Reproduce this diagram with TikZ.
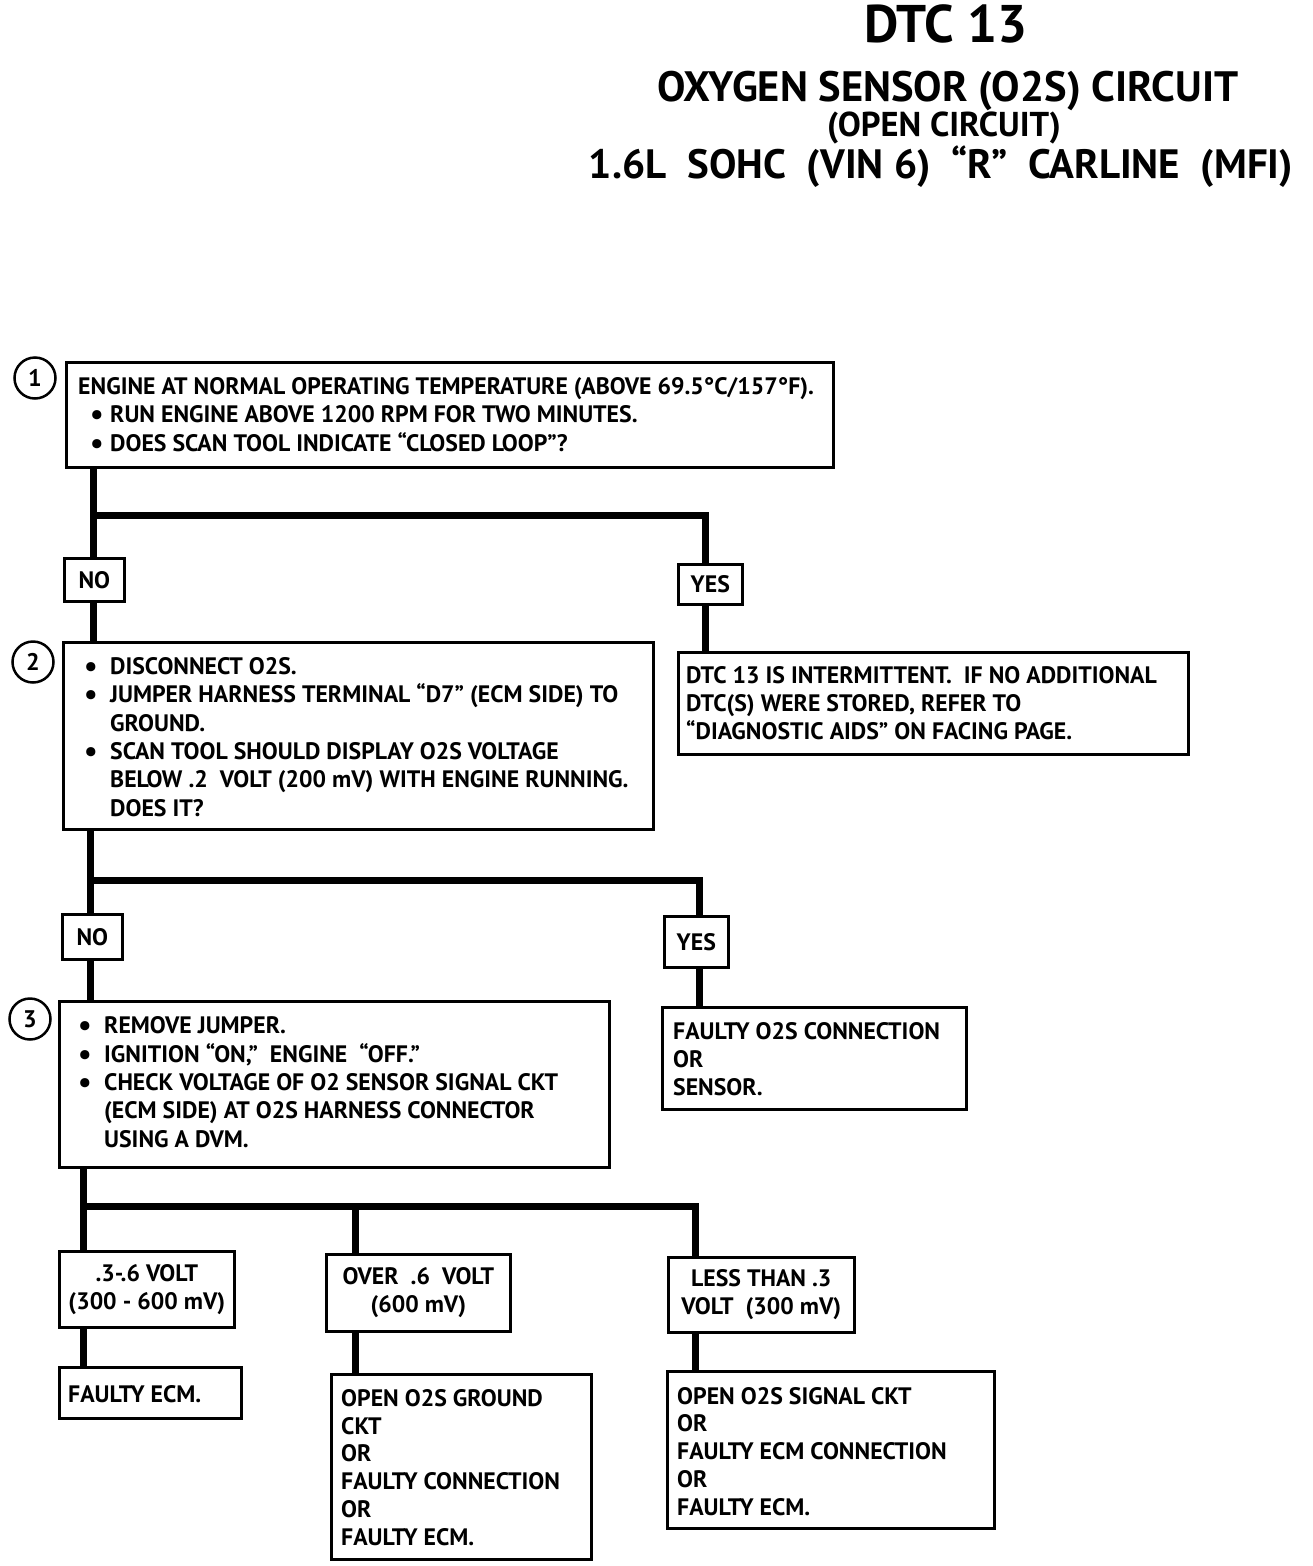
\documentclass[tikz,border=0pt]{standalone}
\usepackage{fontspec}
\setmainfont{PT Sans}
\newcommand\bdot{\raisebox{-2pt}{\fontsize{30}{30}\selectfont•}}
\newcommand\bu{\makebox[26pt][l]{\bdot}}
\newcommand\bub{\makebox[20pt][l]{\bdot}}
\newcommand\tf{\fontsize{23.8}{28.3}\selectfont\bfseries}
\begin{document}
\begin{tikzpicture}[x=1pt,y=-1pt,
  bx/.style={draw, line width=2.6pt, rectangle, inner sep=0pt, anchor=north west, font=\tf, align=center},
  txt/.style={inner sep=0pt, anchor=base west, align=left, font=\tf},
  txs/.style={txt, font=\fontsize{23.8}{27.7}\selectfont\bfseries},
  conn/.style={line width=7pt},
  num/.style={circle, draw, line width=2.5pt, minimum size=41pt, inner sep=0pt, font=\fontsize{24}{24}\selectfont\bfseries},
  ttl/.style={inner sep=0pt, anchor=base, font=\bfseries}]
\useasboundingbox[fill=white] (0,0) rectangle (1312,1566);
% titles (anchor base = baseline)
\node[ttl, font=\fontsize{53}{53}\selectfont\bfseries] (t1) at (946,42) {DTC 13};
\node[ttl, font=\fontsize{42.5}{42.5}\selectfont\bfseries] (t2) at (948,101) {OXYGEN SENSOR (O2S) CIRCUIT};
\node[ttl, font=\fontsize{34.5}{34.5}\selectfont\bfseries] (t3) at (944,136) {(OPEN CIRCUIT)};
\node[ttl, font=\fontsize{41}{41}\selectfont\bfseries] (t4) at (941,178) {1.6L\ \ SOHC\ \ (VIN 6)\ \ “R”\ \ CARLINE\ \ (MFI)};
% step 1
\node[num] (n1) at (35,378) {1};
\node[bx, minimum width=767pt, minimum height=105pt] (b1) at (65,361) {};
\node[txt] (b1t) at (78,451) {ENGINE AT NORMAL OPERATING TEMPERATURE (ABOVE 69.5°C/157°F).\\
\hspace*{12pt}\bub RUN ENGINE ABOVE 1200 RPM FOR TWO MINUTES.\\
\hspace*{12pt}\bub DOES SCAN TOOL INDICATE “CLOSED LOOP”?};
\node[bx, minimum width=60pt, minimum height=43pt] (no1) at (63,557) {NO};
\node[bx, minimum width=64pt, minimum height=40pt] (yes1) at (677,563) {YES};
% step 2
\node[num] (n2) at (33,662) {2};
\node[bx, minimum width=590pt, minimum height=187pt] (b2) at (62,641) {};
\node[txt] (b2t) at (84,816) {\bu DISCONNECT O2S.\\
\bu JUMPER HARNESS TERMINAL “D7” (ECM SIDE) TO\\
\hspace*{26pt}GROUND.\\
\bu SCAN TOOL SHOULD DISPLAY O2S VOLTAGE\\
\hspace*{26pt}BELOW .2\ \ VOLT (200 mV) WITH ENGINE RUNNING.\\
\hspace*{26pt}DOES IT?};
\node[bx, minimum width=510pt, minimum height=102pt] (d1) at (677,651) {};
\node[txs] (d1t) at (686,739) {DTC 13 IS INTERMITTENT.\ \ IF NO ADDITIONAL\\
DTC(S) WERE STORED, REFER TO\\
“DIAGNOSTIC AIDS” ON FACING PAGE.};
\node[bx, minimum width=60pt, minimum height=45pt] (no2) at (61,913) {NO};
\node[bx, minimum width=64pt, minimum height=51pt] (yes2) at (663,915) {YES};
% step 3
\node[num] (n3) at (30,1019) {3};
\node[bx, minimum width=550pt, minimum height=166pt] (b3) at (58,1000) {};
\node[txt] (b3t) at (78,1147) {\bu REMOVE JUMPER.\\
\bu IGNITION “ON,”\ \ ENGINE\ \ “OFF.”\\
\bu CHECK VOLTAGE OF O2 SENSOR SIGNAL CKT\\
\hspace*{26pt}(ECM SIDE) AT O2S HARNESS CONNECTOR\\
\hspace*{26pt}USING A DVM.};
\node[bx, minimum width=304pt, minimum height=102pt] (f1) at (661,1006) {};
\node[txs] (f1t) at (673,1095) {FAULTY O2S CONNECTION\\ OR\\ SENSOR.};
% results
\node[bx, minimum width=175pt, minimum height=76pt] (r1) at (58,1250) {.3-.6 VOLT\\(300 - 600 mV)};
\node[bx, minimum width=184pt, minimum height=77pt] (r2) at (325,1253) {OVER\ \ .6\ \ VOLT\\(600 mV)};
\node[bx, minimum width=186pt, minimum height=75pt] (r3) at (667,1256) {LESS THAN .3\\VOLT\ \ (300 mV)};
\node[bx, minimum width=182pt, minimum height=51pt] (e1) at (58,1366) {};
\node[txt] (e1t) at (68,1402) {FAULTY ECM.};
\node[bx, minimum width=260pt, minimum height=185pt] (e2) at (330,1373) {};
\node[txs] (e2t) at (341,1545) {OPEN O2S GROUND\\ CKT\\ OR\\ FAULTY CONNECTION\\ OR\\ FAULTY ECM.};
\node[bx, minimum width=327pt, minimum height=157pt] (e3) at (666,1370) {};
\node[txs] (e3t) at (677,1515) {OPEN O2S SIGNAL CKT\\ OR\\ FAULTY ECM CONNECTION\\ OR\\ FAULTY ECM.};
% junction coordinates
\coordinate (j1) at (93,515);
\coordinate (k1) at (705,515);
\coordinate (j2) at (90,880);
\coordinate (k2) at (699,880);
\coordinate (j3) at (83,1206);
\coordinate (m3) at (355,1206);
\coordinate (k3) at (695,1206);
% connectors
\draw[conn] (b1.south -| j1) -- (no1.north -| j1);
\draw[conn] (j1) -- (k1) -- (yes1.north -| k1);
\draw[conn] (no1.south -| j1) -- (b2.north -| j1);
\draw[conn] (yes1.south -| k1) -- (d1.north -| k1);
\draw[conn] (b2.south -| j2) -- (no2.north -| j2);
\draw[conn] (j2) -- (k2) -- (yes2.north -| k2);
\draw[conn] (no2.south -| j2) -- (b3.north -| j2);
\draw[conn] (yes2.south -| k2) -- (f1.north -| k2);
\draw[conn] (b3.south -| j3) -- (r1.north -| j3);
\draw[conn] (j3) -- (k3) -- (r3.north -| k3);
\draw[conn] (m3) -- (r2.north -| m3);
\draw[conn] (r1.south -| j3) -- (e1.north -| j3);
\draw[conn] (r2.south -| m3) -- (e2.north -| m3);
\draw[conn] (r3.south -| k3) -- (e3.north -| k3);
\end{tikzpicture}
\end{document}
